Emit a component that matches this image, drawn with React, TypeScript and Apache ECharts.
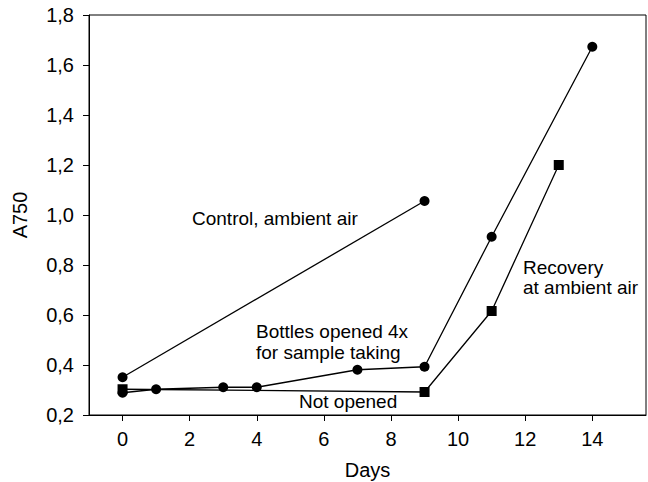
import React, { useEffect, useRef } from "react";
import * as echarts from "echarts";

const xTicks = [0, 2, 4, 6, 8, 10, 12, 14];
const controlDays = [0, 9];
const controlA750 = [0.351, 1.056];
const openedDays = [0, 1, 3, 4, 7, 9, 11, 14];
const openedA750 = [0.289, 0.303, 0.311, 0.311, 0.381, 0.393, 0.913, 1.673];
const notOpenedDays = [0, 9, 11, 13];
const notOpenedA750 = [0.303, 0.292, 0.616, 1.2];

const FONT = '"Liberation Sans", Arial, Helvetica, sans-serif';
const FS = 19;
const AXFS = 20;

const zip = (xs: number[], ys: number[]) => xs.map((x, i) => [x, ys[i]]);

export default function App() {
  const ref = useRef<HTMLDivElement>(null);
  useEffect(() => {
    if (!ref.current) return;
    const chart = echarts.init(ref.current, null, { renderer: "svg" });
    const lineStyle = { color: "#000", width: 1.3 };
    const textStyle = (text: string, x: number, y: number) => ({
      type: "text",
      x,
      y,
      style: {
        text,
        fill: "#000",
        fontSize: FS,
        fontFamily: FONT,
        verticalAlign: "middle",
        align: "left",
      },
    });
    chart.setOption({
      animation: false,
      backgroundColor: "#fff",
      grid: {
        left: 89,
        right: 2,
        top: 15,
        bottom: 67,
        show: true,
        borderColor: "#000",
        borderWidth: 1,
        containLabel: false,
        outerBoundsMode: "none",
      },
      xAxis: {
        type: "value",
        min: -1,
        max: 15.6,
        name: "Days",
        nameLocation: "middle",
        nameGap: 45,
        nameTextStyle: { color: "#000", fontSize: AXFS, fontFamily: FONT },
        splitLine: { show: false },
        axisLine: { show: true, onZero: false, lineStyle: { color: "#000", width: 1 } },
        axisTick: { show: true, length: 6, customValues: xTicks, lineStyle: { color: "#000" } },
        axisLabel: {
          customValues: xTicks,
          margin: 14,
          color: "#000",
          fontSize: AXFS,
          fontFamily: FONT,
        },
      },
      yAxis: {
        type: "value",
        min: 0.2,
        max: 1.8,
        interval: 0.2,
        name: "A750",
        nameLocation: "middle",
        nameGap: 59,
        nameTextStyle: { color: "#000", fontSize: AXFS, fontFamily: FONT },
        splitLine: { show: false },
        axisLine: { show: true, onZero: false, lineStyle: { color: "#000", width: 1 } },
        axisTick: { show: true, length: 6, lineStyle: { color: "#000" } },
        axisLabel: {
          margin: 15,
          color: "#000",
          fontSize: AXFS,
          fontFamily: FONT,
          formatter: (v: number) => v.toFixed(1).replace(".", ","),
        },
      },
      series: [
        {
          type: "line",
          name: "Control, ambient air",
          data: zip(controlDays, controlA750),
          symbol: "circle",
          symbolSize: 10,
          itemStyle: { color: "#000" },
          lineStyle,
        },
        {
          type: "line",
          name: "Bottles opened 4x",
          data: zip(openedDays, openedA750),
          symbol: "circle",
          symbolSize: 10,
          itemStyle: { color: "#000" },
          lineStyle,
        },
        {
          type: "line",
          name: "Not opened",
          data: zip(notOpenedDays, notOpenedA750),
          symbol: "rect",
          symbolSize: 10,
          itemStyle: { color: "#000" },
          lineStyle,
        },
      ],
      graphic: [
        textStyle("Control, ambient air", 192, 218),
        textStyle("Bottles opened 4x", 256, 331),
        textStyle("for sample taking", 256, 352),
        textStyle("Not opened", 299, 401),
        textStyle("Recovery", 523, 267),
        textStyle("at ambient air", 523, 287),
      ],
    });
    return () => chart.dispose();
  }, []);
  return (
    <div
      ref={ref}
      style={{ position: "fixed", left: 0, top: 0, width: 648, height: 482, background: "#fff" }}
    />
  );
}
